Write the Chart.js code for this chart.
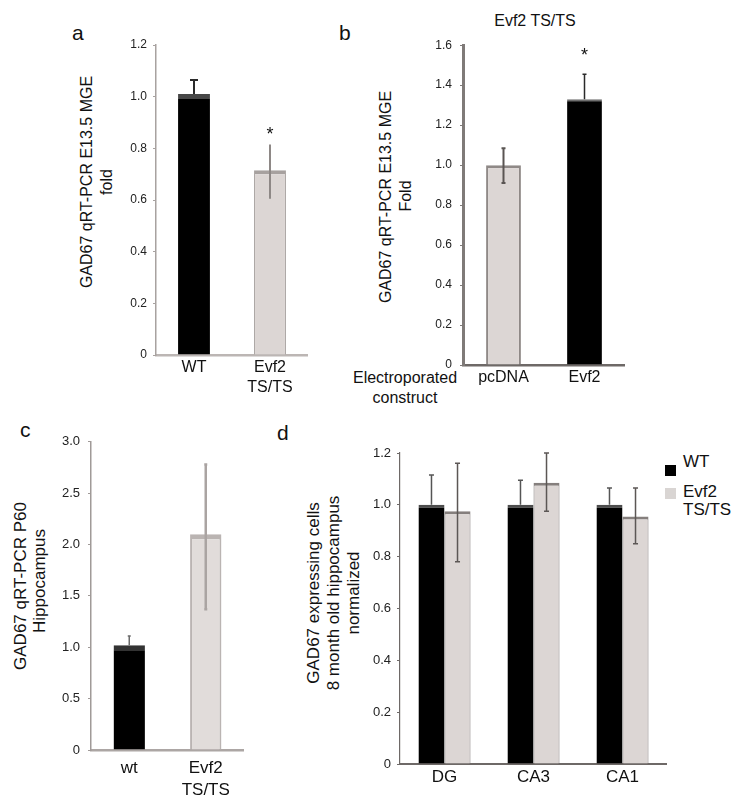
<!DOCTYPE html>
<html><head><meta charset="utf-8">
<script src="https://cdn.jsdelivr.net/npm/chart.js@4/dist/chart.umd.min.js"></script>
<style>
body{margin:0;background:#fff;width:754px;height:804px;position:relative;overflow:hidden;font-family:"Liberation Sans",Arial,Helvetica,sans-serif;color:#111}
canvas{position:absolute}
.t{position:absolute;white-space:nowrap;line-height:20px}
.rt{position:absolute;white-space:nowrap;line-height:1.15;transform:translate(-50%,-50%) rotate(-90deg)}
.lt{position:absolute;font-size:21px;line-height:20px}
.sq{position:absolute;width:11px;height:11px}
</style></head><body>

<!-- panel letters -->
<div class="lt" style="left:72px;top:23px">a</div>
<div class="lt" style="left:339px;top:23px">b</div>
<div class="lt" style="left:20px;top:420px">c</div>
<div class="lt" style="left:277px;top:423px">d</div>

<!-- y titles -->
<div class="rt" style="left:87px;top:182px;font-size:16px">GAD67 qRT-PCR E13.5 MGE</div>
<div class="rt" style="left:107px;top:182px;font-size:16px">fold</div>
<div class="rt" style="left:386px;top:197px;font-size:16px">GAD67 qRT-PCR E13.5 MGE</div>
<div class="rt" style="left:406px;top:196px;font-size:16px">Fold</div>
<div class="rt" style="left:21px;top:586px;font-size:17px">GAD67 qRT-PCR P60</div>
<div class="rt" style="left:40px;top:581px;font-size:17px">Hippocampus</div>
<div class="rt" style="left:314px;top:593px;font-size:17px">GAD67 expressing cells</div>
<div class="rt" style="left:334px;top:593px;font-size:17px">8 month old hippocampus</div>
<div class="rt" style="left:354px;top:593px;font-size:17px">normalized</div>

<!-- other text -->
<div class="t" style="left:535px;top:11px;font-size:16px;transform:translateX(-50%)">Evf2 TS/TS</div>
<div class="t" style="left:405px;top:368px;font-size:16px;transform:translateX(-50%);text-align:center">Electroporated<br>construct</div>

<!-- legend d -->
<div class="sq" style="left:665px;top:465px;background:#000"></div>
<div class="t" style="left:683px;top:452px;font-size:17px">WT</div>
<div class="sq" style="left:665px;top:488px;background:#d9d5d3"></div>
<div class="t" style="left:683px;top:483px;font-size:17px;line-height:18px">Evf2<br>TS/TS</div>

<canvas id="cA" width="230" height="370" style="left:78px;top:30px"></canvas>
<canvas id="cB" width="248" height="380" style="left:377px;top:30px"></canvas>
<canvas id="cC" width="230" height="369" style="left:14px;top:426px"></canvas>
<canvas id="cD" width="362" height="366" style="left:305px;top:438px"></canvas>

<script>
Chart.defaults.font.family='"Liberation Sans", Arial, Helvetica, sans-serif';
Chart.defaults.color="#1a1a1a";

// a — E13.5 MGE, WT vs Evf2 TS/TS
const aLabels=["WT",["Evf2","TS/TS"]];
const aVals=[1.01,0.715];
const aHi=[1.065,0.815];
const aLo=[1.01,0.605];
const aStars=["","*"];

// b — electroporation
const bLabels=["pcDNA","Evf2"];
const bVals=[1.0,1.33];
const bHi=[1.085,1.455];
const bLo=[0.91,1.33];
const bStars=["","*"];

// c — P60 hippocampus
const cLabels=["wt",["Evf2","TS/TS"]];
const cVals=[1.02,2.1];
const cHi=[1.11,2.78];
const cLo=[1.02,1.37];

// d — 8 month hippocampus cell counts
const dLabels=["DG","CA3","CA1"];
const dWT=[1.0,1.0,1.0];
const dWTHi=[1.115,1.095,1.065];
const dWTLo=[1.0,1.0,1.0];
const dEvf=[0.975,1.085,0.955];
const dEvfHi=[1.16,1.2,1.065];
const dEvfLo=[0.78,0.975,0.85];

const pick=(v,j)=>Array.isArray(v)?v[j]:v;

// error bars + significance stars
const errPlugin={id:"err",afterDatasetsDraw(ch){
  const ctx=ch.ctx,y=ch.scales.y;
  ch.data.datasets.forEach((ds,i)=>{
    ch.getDatasetMeta(i).data.forEach((b,j)=>{
      const hi=y.getPixelForValue(ds.errHigh[j]),lo=y.getPixelForValue(ds.errLow[j]);
      const cw=pick(ds.capW,j);
      ctx.save();ctx.strokeStyle=pick(ds.errColor,j);ctx.lineWidth=pick(ds.errWidth,j)||1.5;
      ctx.beginPath();ctx.moveTo(b.x,lo);ctx.lineTo(b.x,hi);
      if(cw){ctx.moveTo(b.x-cw,hi);ctx.lineTo(b.x+cw,hi);
        if(ds.errLow[j]<ds.data[j]){ctx.moveTo(b.x-cw,lo);ctx.lineTo(b.x+cw,lo)}}
      ctx.stroke();
      if(ds.stars&&ds.stars[j]){
        ctx.fillStyle="#111";ctx.font='18px "Liberation Sans", Arial, sans-serif';
        ctx.textAlign="center";ctx.textBaseline="alphabetic";
        ctx.fillText(ds.stars[j],b.x,hi-ds.starGap);
      }
      ctx.restore();
    });
  });
}};

function panel(id,o){
  return new Chart(document.getElementById(id),{
    type:"bar",
    data:{labels:o.labels,datasets:o.datasets},
    options:{
      responsive:false,animation:false,devicePixelRatio:1,
      layout:{padding:{top:15,right:0,left:0,bottom:0}},
      plugins:{legend:{display:false},tooltip:{enabled:false}},
      scales:{
        x:{grid:{display:false,drawTicks:false},border:{color:o.xc,width:o.xw},
          ticks:{color:"#111",font:{size:o.xf,lineHeight:1.25},padding:o.xp,maxRotation:0,autoSkip:false},
          afterFit:s=>{s.height=o.xh}},
        y:{min:0,max:o.max,
          ticks:{stepSize:o.step,color:"#222",font:{size:o.yf},padding:o.yp,callback:v=>v===0?"0":v.toFixed(1)},
          grid:{drawOnChartArea:false,drawTicks:true,tickLength:3,color:o.yc},
          border:{color:o.yc,width:o.yw},
          afterFit:s=>{s.width=o.yBox}}
      }
    },
    plugins:[errPlugin]
  });
}

panel("cA",{labels:aLabels,max:1.2,step:0.2,yBox:78,yf:12,yp:6,yc:"#a8a2a0",yw:1.5,xc:"#bcb6b4",xw:2.5,xf:16,xp:3,xh:45,
  datasets:[{data:aVals,backgroundColor:["#000","#dcd6d4"],borderColor:["#474747","#a7a19f"],
    borderWidth:c=>c.dataIndex===0?{top:5,left:0,right:0,bottom:0}:{top:4,left:1,right:1,bottom:0},
    barPercentage:0.42,categoryPercentage:1,
    errHigh:aHi,errLow:aLo,errColor:["#2a2a2a","#8e8886"],errWidth:[2,2],capW:[4,0],stars:aStars,starGap:4}]});

panel("cB",{labels:bLabels,max:1.6,step:0.2,yBox:86,yf:12,yp:8,yc:"#7f7a78",yw:3,xc:"#6e6967",xw:2.5,xf:16,xp:3,xh:45,
  datasets:[{data:bVals,backgroundColor:["#dcd6d4","#000"],borderColor:["#8f8987","#6e6e6e"],
    borderWidth:c=>c.dataIndex===0?{top:3,left:2,right:2,bottom:0}:{top:2,left:0,right:0,bottom:0},
    barPercentage:0.43,categoryPercentage:1,
    errHigh:bHi,errLow:bLo,errColor:["#5a5553","#2a2a2a"],errWidth:[2,1.5],capW:[2,2],stars:bStars,starGap:13}]});

panel("cC",{labels:cLabels,max:3,step:0.5,yBox:77,yf:13,yp:8,yc:"#a09a98",yw:1.5,xc:"#aca6a4",xw:2.5,xf:17,xp:8,xh:45,
  datasets:[{data:cVals,backgroundColor:["#000","#e1dcda"],borderColor:["#333","#bab4b2"],
    borderWidth:c=>c.dataIndex===0?{top:5,left:0,right:0,bottom:0}:{top:5,left:2,right:2,bottom:0},
    barPercentage:0.41,categoryPercentage:1,
    errHigh:cHi,errLow:cLo,errColor:["#6a6a6a","#aaa4a2"],errWidth:[1.5,2.5],capW:[1.5,1.5]}]});

panel("cD",{labels:dLabels,max:1.2,step:0.2,yBox:95,yf:13,yp:6,yc:"#6e6967",yw:1.2,xc:"#6e6967",xw:2,xf:17,xp:3,xh:40,
  datasets:[
    {data:dWT,backgroundColor:"#000",borderColor:"#4d4d4d",borderWidth:{top:3,left:0,right:0,bottom:0},
      barPercentage:1,categoryPercentage:0.585,errHigh:dWTHi,errLow:dWTLo,errColor:"#555",errWidth:1.5,capW:2.5},
    {data:dEvf,backgroundColor:"#dcd6d4",borderColor:"#857f7d",borderWidth:{top:3,left:1,right:1,bottom:0},
      barPercentage:1,categoryPercentage:0.585,errHigh:dEvfHi,errLow:dEvfLo,errColor:"#5c5755",errWidth:1.5,capW:2.5}
  ]});
</script>
</body></html>
